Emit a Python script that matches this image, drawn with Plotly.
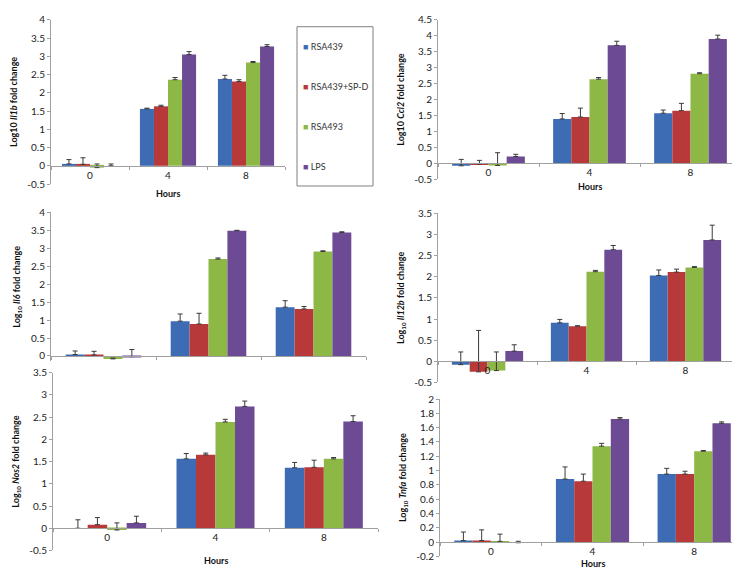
import plotly.graph_objects as go

# ---------------- data ----------------
hours = ["0", "4", "8"]
series = ["RSA439", "RSA439+SP-D", "RSA493", "LPS"]
colors = ["#3D6CB4", "#B7393A", "#8DB846", "#6D4A94"]

# mean per series (rows = series, cols = 0h, 4h, 8h)
il1b_mean = [[0.05, 1.56, 2.38], [0.04, 1.63, 2.31], [-0.05, 2.36, 2.83], [0.00, 3.05, 3.27]]
il1b_err = [[0.12, 0.02, 0.10], [0.18, 0.03, 0.05], [0.10, 0.06, 0.03], [0.05, 0.08, 0.05]]

ccl2_mean = [[-0.08, 1.39, 1.57], [-0.03, 1.45, 1.65], [-0.07, 2.64, 2.81], [0.21, 3.70, 3.90]]
ccl2_err = [[0.20, 0.17, 0.10], [0.12, 0.28, 0.23], [0.40, 0.05, 0.03], [0.07, 0.13, 0.12]]

il6_mean = [[0.04, 0.97, 1.36], [0.03, 0.89, 1.31], [-0.08, 2.70, 2.91], [-0.02, 3.49, 3.44]]
il6_err = [[0.10, 0.20, 0.18], [0.10, 0.30, 0.07], [0.02, 0.03, 0.02], [0.20, 0.01, 0.02]]

il12b_mean = [[-0.08, 0.91, 2.03], [-0.25, 0.83, 2.11], [-0.22, 2.12, 2.22], [0.24, 2.64, 2.87]]
il12b_err = [[0.30, 0.08, 0.13], [0.98, 0.01, 0.07], [0.44, 0.03, 0.02], [0.15, 0.10, 0.35]]

nos2_mean = [[0.00, 1.56, 1.36], [0.08, 1.65, 1.37], [-0.04, 2.39, 1.56], [0.12, 2.74, 2.40]]
nos2_err = [[0.19, 0.12, 0.12], [0.16, 0.04, 0.16], [0.16, 0.06, 0.03], [0.15, 0.12, 0.13]]

tnfa_mean = [[0.02, 0.88, 0.95], [0.02, 0.85, 0.95], [0.01, 1.34, 1.27], [-0.01, 1.72, 1.66]]
tnfa_err = [[0.12, 0.17, 0.08], [0.15, 0.10, 0.04], [0.10, 0.04, 0.01], [0.02, 0.02, 0.02]]

il1b_ticks = [-0.5, 0, 0.5, 1, 1.5, 2, 2.5, 3, 3.5, 4]
ccl2_ticks = [-0.5, 0, 0.5, 1, 1.5, 2, 2.5, 3, 3.5, 4, 4.5]
il6_ticks = [0, 0.5, 1, 1.5, 2, 2.5, 3, 3.5, 4]
il12b_ticks = [-0.5, 0, 0.5, 1, 1.5, 2, 2.5, 3, 3.5]
nos2_ticks = [-0.5, 0, 0.5, 1, 1.5, 2, 2.5, 3, 3.5]
tnfa_ticks = [-0.2, 0, 0.2, 0.4, 0.6, 0.8, 1, 1.2, 1.4, 1.6, 1.8, 2]

# ---------------- layout helpers ----------------
W, H = 740, 568
FONT = "Lato"
AX = "#A0A0A0"

panels = [
    dict(mean=il1b_mean, err=il1b_err, ticks=il1b_ticks, rng=[-0.5, 4],
         px=(43, 277), py=(5, 173), xlabels=True, hours_y=183,
         title="Log10 <i>Il1b</i> fold change"),
    dict(mean=ccl2_mean, err=ccl2_err, ticks=ccl2_ticks, rng=[-0.5, 4.5],
         px=(430, 733), py=(5, 168), xlabels=True, hours_y=176,
         title="Log10 <i>Ccl2</i> fold change"),
    dict(mean=il6_mean, err=il6_err, ticks=il6_ticks, rng=[-0.15, 4],
         px=(43, 358), py=(202, 354.5), xlabels=False, hours_y=None,
         title="Log<sub>10</sub> <i>Il6</i> fold change"),
    dict(mean=il12b_mean, err=il12b_err, ticks=il12b_ticks, rng=[-0.5, 3.5],
         px=(430, 727), py=(203, 376), xlabels=True, hours_y=None,
         title="Log<sub>10</sub> <i>Il12b</i> fold change"),
    dict(mean=nos2_mean, err=nos2_err, ticks=nos2_ticks, rng=[-0.5, 3.5],
         px=(45, 370), py=(366, 548), xlabels=True, hours_y=558,
         title="Log<sub>10</sub> <i>Nos2</i> fold change"),
    dict(mean=tnfa_mean, err=tnfa_err, ticks=tnfa_ticks, rng=[-0.2, 2],
         px=(432, 737), py=(393, 554), xlabels=True, hours_y=561,
         title="Log<sub>10</sub> <i>Tnfa</i> fold change"),
]

fig = go.Figure()
layout = dict(
    width=W, height=H, margin=dict(l=0, r=0, t=0, b=0),
    paper_bgcolor="white", plot_bgcolor="rgba(0,0,0,0)",
    barmode="group", bargap=0.28, bargroupgap=0,
    font=dict(family=FONT, size=10, color="#222"),
    showlegend=False,
)
annotations = []
shapes = []

for i, p in enumerate(panels):
    n = "" if i == 0 else str(i + 1)
    xa, ya = "x" + n, "y" + n
    x0, x1 = p["px"][0] / W, p["px"][1] / W
    y0, y1 = 1 - p["py"][1] / H, 1 - p["py"][0] / H
    rmin, rmax = p["rng"]
    zero_pos = y0 + (0 - rmin) / (rmax - rmin) * (y1 - y0)
    for s in range(len(series)):
        fig.add_trace(go.Bar(
            x=list(range(len(hours))), y=p["mean"][s], name=series[s],
            marker=dict(color=colors[s], line=dict(width=0)),
            error_y=dict(type="data", symmetric=False, array=p["err"][s],
                         arrayminus=[0] * len(hours), color="#3A3A3A",
                         thickness=1, width=2.5),
            xaxis=xa, yaxis=ya, legendgroup=series[s],
        ))
    layout["xaxis" + n] = dict(
        domain=[x0, x1], range=[-0.5, 2.5], anchor="free", position=zero_pos,
        tickmode="array", tickvals=list(range(len(hours))), ticktext=hours,
        showticklabels=p["xlabels"], ticks="", showline=True, linecolor=AX,
        linewidth=1, showgrid=False, zeroline=False, fixedrange=True,
        tickfont=dict(family=FONT, size=10, color="#222"),
        minor=dict(tickmode="array", tickvals=[-0.5, 0.5, 1.5, 2.5],
                   ticks="outside", ticklen=3, tickcolor=AX, showgrid=False),
    )
    layout["yaxis" + n] = dict(
        domain=[y0, y1], range=p["rng"], anchor=xa,
        tickmode="array", tickvals=p["ticks"],
        ticktext=[f"{v:g}" for v in p["ticks"]],
        ticks="outside", ticklen=3, tickcolor=AX, showline=True, linecolor=AX,
        linewidth=1, showgrid=False, zeroline=False,
        tickfont=dict(family=FONT, size=10, color="#222"),
        title=dict(text="<b>" + p["title"] + "</b>", standoff=8,
                   font=dict(family=FONT, size=9, color="#111")),
    )
    if p["hours_y"] is not None:
        annotations.append(dict(
            text="<b>Hours</b>", xref="paper", yref="paper",
            x=(x0 + x1) / 2, y=1 - p["hours_y"] / H, showarrow=False,
            xanchor="center", yanchor="middle",
            font=dict(family=FONT, size=9, color="#111")))

# ---- legend box (drawn as text entries in a framed box, like the original) ----
LEG_L, LEG_R, LEG_T, LEG_B = 289, 365, 12, 175
shapes.append(dict(type="rect", xref="paper", yref="paper",
                   x0=LEG_L / W, x1=LEG_R / W, y0=1 - LEG_B / H, y1=1 - LEG_T / H,
                   line=dict(color="#7F7F7F", width=1), fillcolor="white", layer="below"))
for s, name in enumerate(series):
    ypx = 32 + s * 41
    annotations.append(dict(
        text=f'<span style="color:{colors[s]}">■</span> {name}',
        xref="paper", yref="paper", x=(LEG_L + 4) / W, y=1 - ypx / H,
        xanchor="left", yanchor="middle", showarrow=False,
        font=dict(family=FONT, size=9, color="#333")))

layout["annotations"] = annotations
layout["shapes"] = shapes
fig.update_layout(**layout)
fig.write_html("out.html")
